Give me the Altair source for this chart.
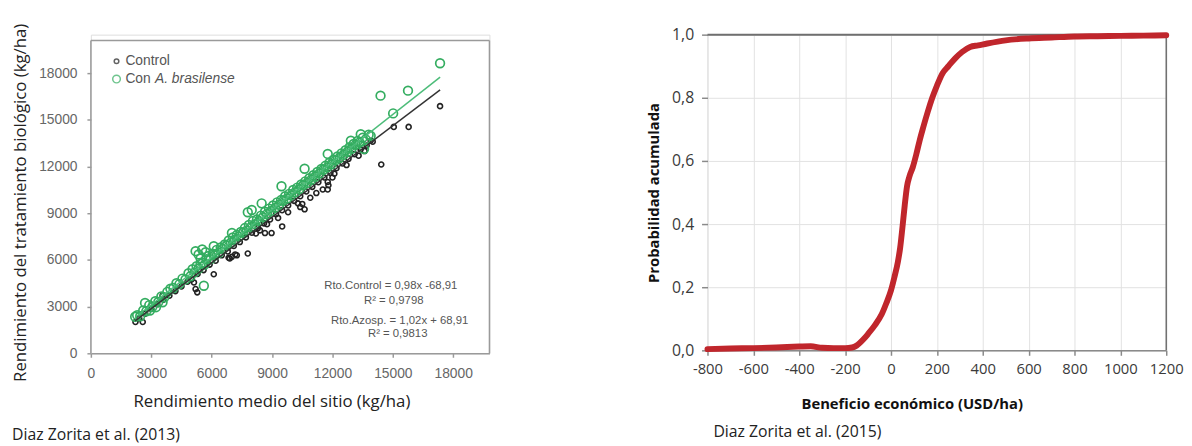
import altair as alt
import pandas as pd

# ---------------- Left panel data (kg/ha) ----------------
ctrl_x = [2215, 2576, 2400, 2700, 3000, 3300, 3561, 3600, 3900, 4200,
          4500, 4800, 5000, 5120, 5202, 5284, 5300, 5600, 5900, 6105,
          6200, 6500, 6800, 6843, 7100, 7171, 7400, 7700, 7795, 8000,
          8300, 8600, 8648, 8900, 8976, 9200, 9502, 9500, 9797, 9800,
          10100, 10289, 10400, 10617, 10700, 11000, 11300, 11520, 11600, 11766,
          11766, 11900, 12095, 12200, 12500, 12800, 13100, 13400, 13700, 13899,
          14000, 14425, 15048, 15786, 17346,
          6900, 7000, 7250, 8200, 8400, 8750, 9300, 10400, 10500, 10900,
          11200, 11800, 12000, 12700, 13300, 13600]
ctrl_y = [2012, 2012, 2250, 2550, 2850, 3150, 3706, 3450, 3700, 4000,
          4300, 4600, 4750, 4554, 4130, 3918, 5100, 5350, 5700, 5083,
          5950, 6300, 6550, 6142, 6900, 6354, 7150, 7450, 6417, 7750,
          8050, 8350, 7730, 8600, 7730, 8950, 8154, 9200, 9065, 9500,
          9800, 9637, 10100, 9256, 10400, 10700, 11000, 10526, 11300, 10526,
          11014, 11600, 11543, 11900, 12200, 12500, 12800, 13100, 13350, 13661,
          13600, 12136, 14551, 14551, 15885,
          6100, 6200, 6300, 7700, 7900, 8300, 8700, 9400, 9600, 10000,
          10300, 10800, 11300, 12100, 12700, 13000]

azo_x = [2300, 2450, 2600, 2750, 2900, 3050, 3200, 3350, 3500, 3650,
         3800, 3950, 4100, 4250, 4400, 4550, 4700, 4850, 4950, 5050,
         5150, 5250, 5350, 5450, 5550, 5650, 5750, 5850, 5950, 6050,
         6150, 6250, 6350, 6450, 6550, 6650, 6750, 6850, 6950, 7050,
         7150, 7250, 7350, 7450, 7550, 7650, 7750, 7850, 7950, 8050,
         8150, 8250, 8350, 8450, 8550, 8650, 8750, 8850, 8950, 9050,
         9150, 9250, 9350, 9450, 9550, 9650, 9750, 9850, 9950, 10050,
         10150, 10250, 10350, 10450, 10550, 10650, 10750, 10850, 10950, 11050,
         11150, 11250, 11350, 11450, 11550, 11650, 11750, 11850, 11950, 12050,
         12150, 12250, 12350, 12450, 12550, 12650, 12750, 12850, 12950, 13050,
         13150, 13250, 13350, 13500, 13650, 13800,
         17346, 14390, 15754, 15015, 2200, 2691, 2937, 3233, 3561, 5202,
         5530, 5612, 6105, 7007, 7795, 9469, 10617, 11766, 12915, 13407,
         13899, 13571, 8484, 7992, 5350, 5450, 5700]
azo_y = [2450, 2380, 2750, 2700, 3100, 2980, 3350, 3300, 3650, 3600,
         3950, 4150, 4200, 4500, 4450, 4800, 4750, 5150, 4950, 5400,
         5200, 5600, 5450, 5750, 5800, 5700, 6050, 6250, 6050, 6400,
         6300, 6650, 6450, 6800, 6700, 7000, 6950, 7250, 7100, 7450,
         7300, 7600, 7500, 7800, 7750, 8050, 7900, 8250, 8100, 8500,
         8300, 8600, 8500, 8850, 8750, 9100, 8950, 9300, 9150, 9500,
         9350, 9700, 9550, 9850, 9800, 10100, 9950, 10250, 10150, 10500,
         10350, 10650, 10550, 10850, 10800, 11050, 10950, 11250, 11150, 11450,
         11350, 11650, 11550, 11850, 11800, 12050, 11950, 12250, 12150, 12450,
         12400, 12650, 12550, 12850, 12750, 13050, 12950, 13250, 13150, 13450,
         13400, 13650, 13550, 13850, 13750, 14050,
         18640, 16560, 16880, 15420, 2350, 3240, 2750, 2965, 3283, 6566,
         6672, 4342, 6884, 7730, 9065, 10738, 11860, 12814, 13661, 14085,
         13979, 13132, 9637, 9213, 6350, 6100, 6500]

# regression lines (end points)
line_ctrl_x = [2200, 17350]
line_ctrl_y = [2090, 16930]
line_azo_x = [2200, 17350]
line_azo_y = [2300, 17750]

left_ticks = [0, 3000, 6000, 9000, 12000, 15000, 18000]
left_x_max = 19800
left_y_frame = 20100
left_y_max = 20480

eq_lines = ["Rto.Control = 0,98x -68,91", "R² = 0,9798",
            "Rto.Azosp. = 1,02x + 68,91", "R² = 0,9813"]

# ---------------- Right panel data ----------------
ben_x = [-800, -700, -600, -500, -400, -350, -300, -250, -200, -170,
         -150, -120, -100, -70, -40, -20, 0, 15, 30, 40,
         50, 60, 70, 80, 95, 110, 125, 140, 160, 180,
         200, 225, 250, 280, 310, 345, 380, 420, 500, 600,
         700, 800, 900, 1000, 1100, 1200]
prob_y = [0.004, 0.006, 0.007, 0.009, 0.012, 0.013, 0.008, 0.007, 0.007, 0.009,
          0.015, 0.035, 0.052, 0.08, 0.115, 0.15, 0.19, 0.232, 0.28, 0.325,
          0.39, 0.46, 0.52, 0.55, 0.58, 0.62, 0.665, 0.705, 0.755, 0.80,
          0.838, 0.878, 0.90, 0.925, 0.945, 0.961, 0.966, 0.972, 0.982, 0.988,
          0.991, 0.994, 0.995, 0.996, 0.997, 0.998]
right_x_ticks = [-800, -600, -400, -200, 0, 200, 400, 600, 800, 1000, 1200]
right_y_ticks = [0.0, 0.2, 0.4, 0.6, 0.8, 1.0]

# ======================= LEFT CHART =======================
LW, LH = 404, 323
lx_axis = alt.Axis(values=left_ticks, format="d", grid=False, domain=True,
                   domainColor="#9a9a9a", domainWidth=1.5, ticks=True, tickSize=4,
                   tickColor="#9a9a9a", tickWidth=1.5, labelOverlap=False, labelFlush=False,
                   labelFont="Liberation Sans", labelFontSize=14, labelColor="#666666",
                   labelPadding=10, title="Rendimiento medio del sitio (kg/ha)",
                   titleFont="Open Sans", titleFontSize=17, titleFontWeight="normal",
                   titleColor="#222222", titlePadding=13, titleX=183)
ly_axis = alt.Axis(values=left_ticks, format="d", grid=False, domain=False, ticks=True,
                   tickSize=4, tickColor="#9a9a9a", tickWidth=1.5, labelOverlap=False,
                   labelFlush=False, labelFont="Liberation Sans", labelFontSize=14,
                   labelColor="#666666", labelPadding=10,
                   title="Rendimiento del tratamiento biológico (kg/ha)",
                   titleFont="Open Sans", titleFontSize=17, titleFontWeight="normal",
                   titleColor="#222222", titlePadding=9, titleY=170)
lxs = alt.Scale(domain=[0, left_x_max], nice=False, zero=False)
lys = alt.Scale(domain=[0, left_y_max], nice=False, zero=False)
LX = alt.X("x:Q", scale=lxs, axis=lx_axis)
LY = alt.Y("y:Q", scale=lys, axis=ly_axis)

ctrl_df = pd.DataFrame({"x": ctrl_x, "y": ctrl_y})
azo_df = pd.DataFrame({"x": azo_x, "y": azo_y})
lc_df = pd.DataFrame({"x": line_ctrl_x, "y": line_ctrl_y})
la_df = pd.DataFrame({"x": line_azo_x, "y": line_azo_y})

frame_h = pd.DataFrame({"x": [0], "x2": [left_x_max], "y": [left_y_frame]})
frame_v = pd.DataFrame({"x": [0, left_x_max], "y": [0, 0], "y2": [left_y_frame, left_y_frame]})

top_rule = alt.Chart(frame_h).mark_rule(color="#9a9a9a", strokeWidth=1.5).encode(
    x=LX, x2="x2:Q", y=LY)
side_rules = alt.Chart(frame_v).mark_rule(color="#9a9a9a", strokeWidth=1.5).encode(
    x=LX, y=LY, y2="y2:Q")

ctrl_pts = alt.Chart(ctrl_df).mark_point(shape="circle", filled=False, color="#222222",
                                         size=26, strokeWidth=1.6, opacity=1).encode(x=LX, y=LY)
azo_pts = alt.Chart(azo_df).mark_point(shape="circle", filled=False, color="#34ad60",
                                       size=78, strokeWidth=1.7, opacity=1).encode(x=LX, y=LY)
ctrl_line = alt.Chart(lc_df).mark_line(color="#333333", strokeWidth=1.5).encode(x=LX, y=LY)
azo_line = alt.Chart(la_df).mark_line(color="#4cbc79", strokeWidth=1.5).encode(x=LX, y=LY)


def txt(t, x, y, size=14, color="#555555", font="Liberation Sans", align="left",
        style="normal"):
    return alt.Chart(pd.DataFrame({"t": [t]})).mark_text(
        align=align, baseline="middle", font=font, fontSize=size, color=color,
        fontStyle=style).encode(text="t:N", x=alt.value(x), y=alt.value(y))


leg_d = pd.DataFrame({"t": ["a"]})
leg_c1 = alt.Chart(leg_d).mark_point(shape="circle", filled=False, color="#222222", size=22,
                                     strokeWidth=1.5).encode(x=alt.value(26), y=alt.value(27))
leg_c2 = alt.Chart(leg_d).mark_point(shape="circle", filled=False, color="#34ad60", size=60,
                                     strokeWidth=1.5).encode(x=alt.value(26), y=alt.value(45))
leg_t1 = txt("Control", 35, 27)
leg_t2 = txt("Con", 35, 45)
leg_t3 = txt("A. brasilense", 65, 45, style="italic")

eqf = "Liberation Sans"
eq1 = txt(eq_lines[0], 304, 255, size=11.5, color="#555555", font=eqf, align="center")
eq2 = txt(eq_lines[1], 307, 270, size=11.5, color="#555555", font=eqf, align="center")
eq3 = txt(eq_lines[2], 313, 290, size=11.5, color="#555555", font=eqf, align="center")
eq4 = txt(eq_lines[3], 311, 303, size=11.5, color="#555555", font=eqf, align="center")

left = alt.layer(
    ctrl_pts, azo_pts, ctrl_line, azo_line, top_rule, side_rules,
    leg_c1, leg_c2, leg_t1, leg_t2, leg_t3, eq1, eq2, eq3, eq4
).properties(
    width=LW, height=LH,
    title=alt.TitleParams("Diaz Zorita et al. (2013)", orient="bottom", anchor="start",
                          frame="bounds", font="Open Sans", fontSize=16,
                          fontWeight="normal", color="#222222", offset=18)
)

# ======================= RIGHT CHART =======================
RW, RH = 465, 320
rx_axis = alt.Axis(values=right_x_ticks, labelExpr="datum.value + ''", grid=True,
                   gridColor="#e2e2e2", gridWidth=1, domain=True, domainColor="#8a8a8a",
                   domainWidth=1.5, ticks=True, tickSize=5, tickColor="#8a8a8a",
                   tickWidth=1.5, labelOverlap=False, labelFlush=False, labelFont="Open Sans",
                   labelFontSize=15, labelColor="#3a3a3a", labelPadding=6,
                   title="Beneficio económico (USD/ha)", titleFont="Open Sans",
                   titleFontSize=15, titleFontWeight="bold", titleColor="#111111",
                   titlePadding=21, titleX=207)
ry_axis = alt.Axis(values=right_y_ticks, grid=True, gridColor="#e2e2e2", gridWidth=1,
                   domain=False, ticks=True, tickSize=6, tickColor="#8a8a8a", tickWidth=1.5,
                   labelOverlap=False, labelFlush=False, labelFont="Open Sans",
                   labelFontSize=16, labelColor="#3a3a3a", labelPadding=8,
                   labelExpr="replace(format(datum.value, '.1f'), '.', ',')",
                   title="Probabilidad acumulada", titleFont="Open Sans", titleFontSize=15,
                   titleFontWeight="bold", titleColor="#111111", titlePadding=10)
RX = alt.X("x:Q", scale=alt.Scale(domain=[-800, 1200], nice=False, zero=False), axis=rx_axis)
RY = alt.Y("y:Q", scale=alt.Scale(domain=[0, 1], nice=False, zero=False), axis=ry_axis)

curve_df = pd.DataFrame({"x": ben_x, "y": prob_y})
r_top = alt.Chart(pd.DataFrame({"x": [-800], "x2": [1200], "y": [1.0]})).mark_rule(
    color="#6f6f6f", strokeWidth=2).encode(x=RX, x2="x2:Q", y=RY)
r_side = alt.Chart(pd.DataFrame({"x": [1200], "y": [0.0], "y2": [1.0]})).mark_rule(
    color="#6f6f6f", strokeWidth=1.5).encode(x=RX, y=RY, y2="y2:Q")
curve = alt.Chart(curve_df).mark_line(color="#c0262c", strokeWidth=6, interpolate="monotone",
                                      strokeCap="round").encode(x=RX, y=RY)

right = alt.layer(r_top, r_side, curve).properties(
    width=RW, height=RH,
    title=alt.TitleParams("Diaz Zorita et al. (2015)", orient="bottom", anchor="start",
                          frame="group", font="Open Sans", fontSize=16,
                          fontWeight="normal", color="#222222", offset=13, dx=6)
)

chart = alt.hconcat(left, right, spacing=221, bounds="flush").properties(
    padding={"left": 3, "top": 11, "right": 0, "bottom": 4}
).configure_view(stroke=None).configure(background="white")

chart.save("out.html", embed_options={"renderer": "svg", "actions": False})
